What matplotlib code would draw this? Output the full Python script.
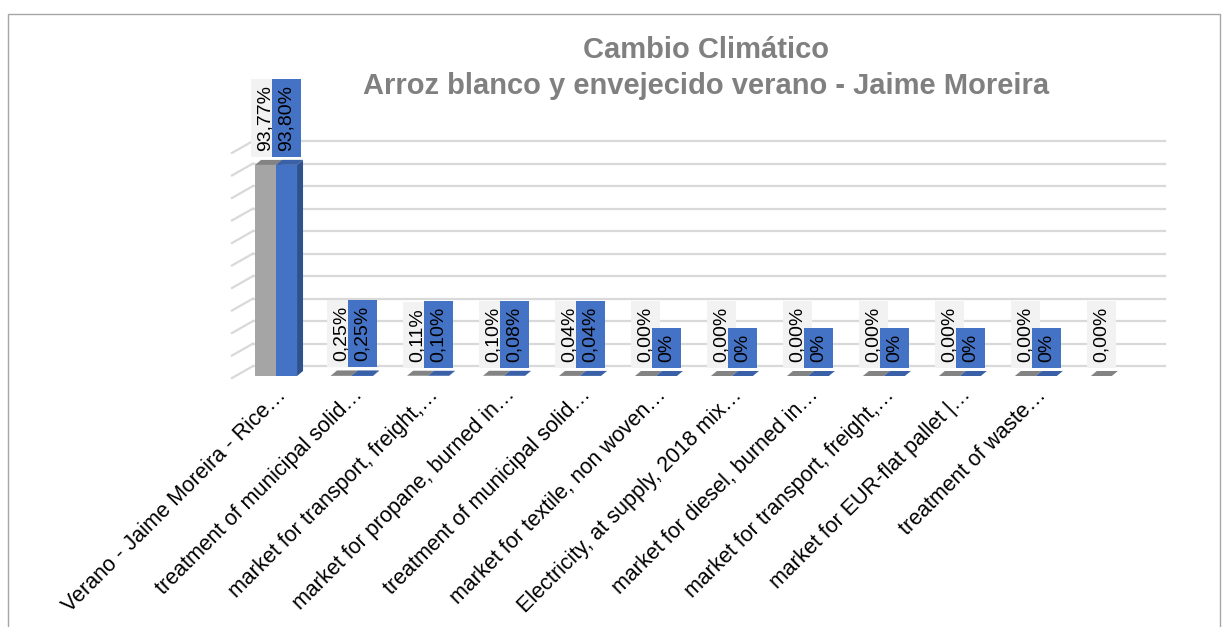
import matplotlib
matplotlib.use("Agg")
import matplotlib.pyplot as plt
from matplotlib.patches import Polygon, Rectangle
import numpy as np

plt.rcParams['font.family'] = ['Liberation Sans', 'DejaVu Sans']

# data
categories = [
    "Verano - Jaime Moreira - Rice…",
    "treatment of municipal solid…",
    "market for transport, freight,…",
    "market for propane, burned in…",
    "treatment of municipal solid…",
    "market for textile, non woven…",
    "Electricity, at supply, 2018 mix…",
    "market for diesel, burned in…",
    "market for transport, freight,…",
    "market for EUR-flat pallet |…",
    "treatment of waste…",
    "",
]
gray_values = [0.9377, 0.0025, 0.0011, 0.0010, 0.0004, 0, 0, 0, 0, 0, 0, 0]
blue_values = [0.9380, 0.0025, 0.0010, 0.0008, 0.0004, 0, 0, 0, 0, 0, 0]
gray_labels = ["93,77%", "0,25%", "0,11%", "0,10%", "0,04%", "0,00%",
               "0,00%", "0,00%", "0,00%", "0,00%", "0,00%", "0,00%"]
blue_labels = ["93,80%", "0,25%", "0,10%", "0,08%", "0,04%", "0%",
               "0%", "0%", "0%", "0%", "0%"]

title1 = "Cambio Climático"
title2 = "Arroz blanco y envejecido verano - Jaime Moreira"

W, H = 1228, 627
fig = plt.figure(figsize=(W / 100, H / 100), dpi=100)
ax = fig.add_axes([232 / W, (H - 376) / H, (1165 - 232) / W, (376 - 141) / H])

xmin, xmax = -0.58, 11.70
ax.set_xlim(xmin, xmax)
ax.set_ylim(0, 1.044)

# back wall gridlines with the little 3D diagonals on the left
wall = 0.044
x_wall = xmin + 21 / 76
for v in np.arange(0, 1.01, 0.1):
    ax.plot([x_wall, xmax], [v + wall, v + wall], color="#D9D9D9", lw=1.6, zorder=1, clip_on=False)
    ax.plot([xmin, x_wall], [v - 0.009, v + wall], color="#D9D9D9", lw=1.6, zorder=1, clip_on=False)

bw = 0.276
dx, dy = 6 / 76, 5 / 225


def draw_bars(xs, values, front, top, side, z):
    ax.bar(xs, values, width=bw, color=front, zorder=z)
    for x, v in zip(xs, values):
        l, r = x - bw / 2, x + bw / 2
        ax.add_patch(Polygon([(l, v), (r, v), (r + dx, v + dy), (l + dx, v + dy)],
                             closed=True, fc=top, ec="none", zorder=z, clip_on=False))
        ax.add_patch(Polygon([(r, 0), (r + dx, dy), (r + dx, v + dy), (r, v)],
                             closed=True, fc=side, ec="none", zorder=z, clip_on=False))


idx = np.arange(len(categories))
gx = idx - bw / 2
bx = np.arange(len(blue_values)) + bw / 2
draw_bars(gx, gray_values, "#A5A5A5", "#838383", "#7A7A7A", 3)
draw_bars(bx, blue_values, "#4472C4", "#3A60A8", "#2F528F", 4)

for x, v, t in zip(gx, gray_values, gray_labels):
    ax.annotate(t, (x, v), xytext=(0, 14), textcoords="offset pixels",
                rotation=90, ha="center", va="bottom", fontsize=14, color="black",
                bbox=dict(boxstyle="square,pad=0.3", fc="#F2F2F2", ec="none"),
                zorder=5, annotation_clip=False)
for x, v, t in zip(bx, blue_values, blue_labels):
    ax.annotate(t, (x, v), xytext=(0, 14), textcoords="offset pixels",
                rotation=90, ha="center", va="bottom", fontsize=14, color="black",
                bbox=dict(boxstyle="square,pad=0.3", fc="#4472C4", ec="none"),
                zorder=6, annotation_clip=False)

ax.set_xticks(idx)
ax.set_xticklabels(categories, rotation=45, ha="right", va="top",
                   rotation_mode="anchor", fontsize=15.5)
ax.tick_params(axis="x", length=0, pad=6)
ax.set_yticks([])
for s in ax.spines.values():
    s.set_visible(False)

fig.text(706 / W, 1 - 50 / H, title1, ha="center", va="center",
         fontsize=21, fontweight="bold", color="#808080")
fig.text(706 / W, 1 - 86 / H, title2, ha="center", va="center",
         fontsize=21, fontweight="bold", color="#808080")

# chart area frame
fig.patches.append(Rectangle((8 / W, -0.1), (1220 - 8) / W, (H - 14) / H + 0.1,
                             transform=fig.transFigure, fill=False, ec="#A6A6A6", lw=1))

fig.savefig("out.png", dpi=100)
